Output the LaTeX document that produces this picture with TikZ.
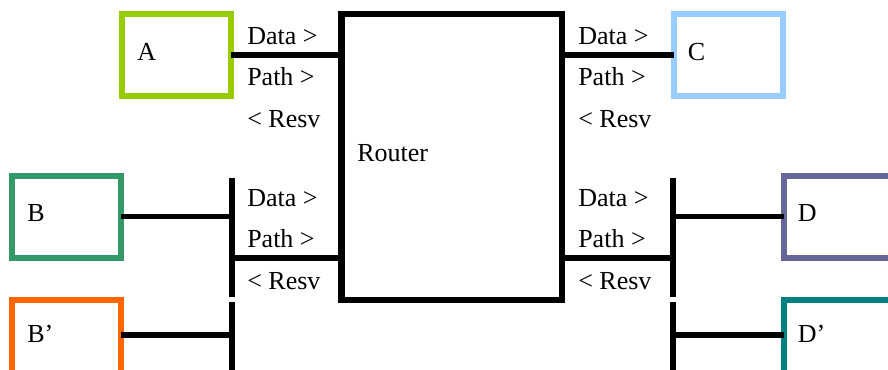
\documentclass[tikz,border=0pt]{standalone}
\usepackage{fontspec}
\setmainfont{Liberation Serif}
\usetikzlibrary{calc}
\definecolor{hostA}{HTML}{99CC00}
\definecolor{hostB}{HTML}{339966}
\definecolor{hostBp}{HTML}{FF6600}
\definecolor{hostC}{HTML}{99CCFF}
\definecolor{hostD}{HTML}{666699}
\definecolor{hostDp}{HTML}{008080}

\begin{document}
\begin{tikzpicture}[x=0.75pt, y=-0.75pt,
	host/.style={draw, line width=4.5pt, outer sep=0pt, inner sep=0pt, minimum width=81.75pt, minimum height=61.5pt},
	wire/.style={line width=4pt},
	tag/.style={anchor=west, inner sep=0pt, font=\fontsize{19.5}{23}\selectfont}]
			%%%%% START %%%%%
			\useasboundingbox (0,0) rectangle (888,369);
			
			\node[host, draw=hostA] (A) at (176.5,55) {};
			\node[host, draw=hostC] (C) at (728,55) {};
			\node[host, draw=hostB] (B) at (66.5,216.5) {};
			\node[host, draw=hostBp, minimum height=67.5pt] (Bp) at (66.5,345) {};
			\node[host, draw=hostD] (D) at (838,216.5) {};
			\node[host, draw=hostDp, minimum height=67.5pt] (Dp) at (838,345) {};
			\node[draw, line width=5pt, outer sep=0pt, minimum width=165.4pt, minimum height=214.5pt] (router) at (451.75,157) {};
			
			\node[tag] (labA) at ($(A.north west)+(15,38)$) {A};
			\node[tag] (labC) at ($(C.north west)+(14,38)$) {C};
			\node[tag] (labB) at ($(B.north west)+(15,38)$) {B};
			\node[tag] (labBp) at ($(Bp.north west)+(15,34)$) {B’};
			\node[tag] (labD) at ($(D.north west)+(14,38)$) {D};
			\node[tag] (labDp) at ($(Dp.north west)+(14,34)$) {D’};
			\node[tag] (labR) at ($(router.north west)+(15.5,139)$) {Router};
			
			% bus bars
			\coordinate (lbusT) at (232,178);
			\coordinate (lbusM) at (232,297);
			\coordinate (lbusN) at (232,302);
			\coordinate (lbusE) at (232,372);
			\coordinate (rbusT) at (673,178);
			\coordinate (rbusM) at (673,297);
			\coordinate (rbusN) at (673,302);
			\coordinate (rbusE) at (673,372);
			\draw[wire] (lbusT) -- (lbusM);
			\draw[wire] (lbusN) -- (lbusE);
			\draw[wire] (rbusT) -- (rbusM);
			\draw[wire] (rbusN) -- (rbusE);
			
			\draw[wire] (A.east) -- (A.east -| router.west);
			\draw[wire] (C.west) -- (C.west -| router.east);
			
			\coordinate (rportL) at ($(router.south west)+(0,-42)$);
			\coordinate (rportR) at ($(router.south east)+(0,-42)$);
			\draw[wire] (rportL) -- (rportL -| lbusT);
			\draw[wire] (rportR) -- (rportR -| rbusT);
			
			\draw[wire] (B.east) -- (B.east -| lbusT);
			\draw[wire] (D.west) -- (D.west -| rbusT);
			\coordinate (bplink) at ($(Bp.north east)+(0,35)$);
			\coordinate (dplink) at ($(Dp.north west)+(0,35)$);
			\draw[wire] (bplink) -- (bplink -| lbusT);
			\draw[wire] (dplink) -- (dplink -| rbusT);
			
			% messages
			\foreach \grp/\gx/\gy in {lt/247/36, rt/578/36, lb/247/198, rb/578/198} {
				\node[tag] (\grp data) at (\gx,\gy) {Data >};
				\node[tag] (\grp path) at (\gx,\gy+41) {Path >};
				\node[tag] (\grp resv) at (\gx,\gy+83) {< Resv};
			}
			%%%%% END %%%%%
\end{tikzpicture}
\end{document}
